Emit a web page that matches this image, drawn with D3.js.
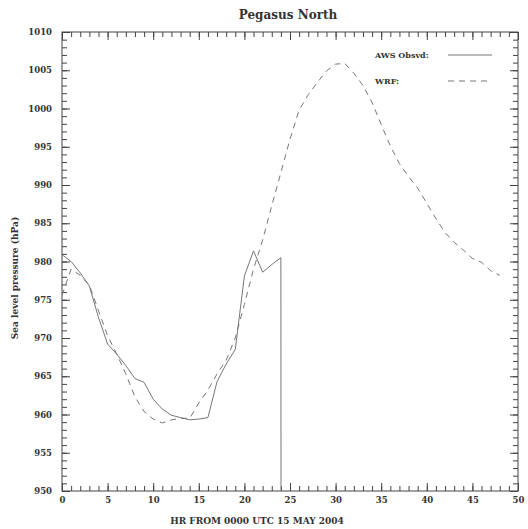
<!DOCTYPE html>
<html>
<head>
<meta charset="utf-8">
<script src="https://cdn.jsdelivr.net/npm/d3@7"></script>
<style>
    body { margin: 0; background: #fff; }
    text { font-family: "DejaVu Serif", "Liberation Serif", serif; font-weight: bold; fill: #333; }
</style>
</head>
<body>
<div id="chart-area"></div>
<script>
// hours from 0000 UTC 15 May 2004
const obsHours = d3.range(0, 26);
// AWS observed sea level pressure (hPa); -999 = missing (station stops after hr 24)
const obsValues = [980.9, 980.0, 978.5, 976.8, 972.7, 969.2, 967.9, 966.4, 964.7, 964.2,
    962.0, 960.7, 959.9, 959.6, 959.3, 959.4, 959.6, 964.3, 966.6, 968.5,
    978.1, 981.4, 978.6, 979.6, 980.5, -999];

const wrfHours = d3.range(0, 49);
const wrfValues = [975.6, 979.0, 978.2, 976.9, 973.6, 970.3, 967.9, 965.3, 962.3, 960.4,
    959.4, 958.9, 959.3, 959.5, 959.5, 961.5, 963.2, 965.3, 967.1, 970.0,
    974.4, 979.0, 982.8, 987.3, 991.6, 996.0, 999.8, 1001.8, 1003.4, 1004.9,
    1005.8, 1005.9, 1004.6, 1003.0, 1000.8, 997.9, 995.1, 992.8, 991.1, 989.6,
    987.6, 985.6, 983.8, 982.5, 981.5, 980.4, 979.9, 978.8, 978.2];

const xTickLabels = d3.range(0, 51, 5);
const yTickLabels = d3.range(950, 1011, 5);

const seriesNames = ["AWS Obsvd:", "WRF:"];

class PressureVis {

    constructor(_parentElement) {
        this.parentElement = _parentElement;
        this.initVis();
    }

    initVis() {
        let vis = this;
        let margin = {top: 32, right: 10, bottom: 38, left: 62};

        vis.width = 528 - margin.left - margin.right;
        vis.height = 529 - margin.top - margin.bottom;

        vis.root = d3.select("#" + vis.parentElement).append("svg")
            .attr("width", 528)
            .attr("height", 529);

        vis.svg = vis.root.append("g")
            .attr("transform", "translate(" + margin.left + "," + margin.top + ")");

        vis.x = d3.scaleLinear().domain([0, 50]).range([0, vis.width]);
        vis.y = d3.scaleLinear().domain([950, 1010]).range([vis.height, 0]);

        vis.svg.append("defs")
            .append("clipPath")
            .attr("id", "clip")
            .append("rect")
            .attr("width", vis.width)
            .attr("height", vis.height);

        // ticks on all four sides, pointing in
        const minorX = d3.range(0, 51, 1), minorY = d3.range(950, 1011, 1);
        const addAxis = (axis, cls, tr) => {
            let g = vis.svg.append("g").attr("class", cls);
            if (tr) g.attr("transform", tr);
            g.call(axis);
            g.select(".domain").remove();
            g.selectAll("line").attr("stroke", "#444");
            return g;
        };

        addAxis(d3.axisBottom(vis.x).tickValues(minorX).tickSize(-5).tickFormat(""), "x-minor", "translate(0," + vis.height + ")");
        addAxis(d3.axisTop(vis.x).tickValues(minorX).tickSize(-5).tickFormat(""), "x-minor-top");
        addAxis(d3.axisLeft(vis.y).tickValues(minorY).tickSize(-5).tickFormat(""), "y-minor");
        addAxis(d3.axisRight(vis.y).tickValues(minorY).tickSize(-5).tickFormat(""), "y-minor-right", "translate(" + vis.width + ",0)");

        let xAxis = addAxis(d3.axisBottom(vis.x).tickValues(xTickLabels).tickSize(-8).tickPadding(6).tickFormat(d3.format("d")), "x-axis", "translate(0," + vis.height + ")");
        addAxis(d3.axisTop(vis.x).tickValues(xTickLabels).tickSize(-8).tickFormat(""), "x-axis-top");
        let yAxis = addAxis(d3.axisLeft(vis.y).tickValues(yTickLabels).tickSize(-8).tickPadding(10).tickFormat(d3.format("d")), "y-axis");
        addAxis(d3.axisRight(vis.y).tickValues(yTickLabels).tickSize(-8).tickFormat(""), "y-axis-right", "translate(" + vis.width + ",0)");

        xAxis.selectAll("text").attr("font-size", 8.5).attr("font-family", null).attr("fill", "#333");
        yAxis.selectAll("text").attr("font-size", 8.5).attr("font-family", null).attr("fill", "#333");

        vis.svg.append("rect")
            .attr("width", vis.width)
            .attr("height", vis.height)
            .attr("fill", "none")
            .attr("stroke", "#444")
            .attr("stroke-width", 1);

        // title + axis titles
        vis.root.append("text")
            .attr("x", 288)
            .attr("y", 19)
            .attr("text-anchor", "middle")
            .attr("font-size", 12)
            .text("Pegasus North");

        vis.root.append("text")
            .attr("x", 257)
            .attr("y", 524)
            .attr("text-anchor", "middle")
            .attr("font-size", 9)
            .text("HR FROM 0000 UTC 15 MAY 2004");

        vis.root.append("text")
            .attr("transform", "translate(18,278) rotate(-90)")
            .attr("text-anchor", "middle")
            .attr("font-size", 9)
            .text("Sea level pressure (hPa)");

        vis.wrangleData();
    }

    wrangleData() {
        let vis = this;
        vis.obs = obsHours.map((h, i) => ({hour: h, value: obsValues[i]}));
        vis.wrf = wrfHours.map((h, i) => ({hour: h, value: wrfValues[i]}));
        vis.updateVis();
    }

    updateVis() {
        let vis = this;

        let line = d3.line()
            .x(d => vis.x(d.hour))
            .y(d => vis.y(d.value));

        let plot = vis.svg.append("g").attr("clip-path", "url(#clip)");

        plot.append("path")
            .datum(vis.wrf)
            .attr("class", "line wrf")
            .attr("d", line)
            .attr("fill", "none")
            .attr("stroke", "#777")
            .attr("stroke-width", 1)
            .attr("stroke-dasharray", "6,5");

        plot.append("path")
            .datum(vis.obs)
            .attr("class", "line obs")
            .attr("d", line)
            .attr("fill", "none")
            .attr("stroke", "#777")
            .attr("stroke-width", 1);

        // legend
        let legend = vis.root.selectAll(".legend")
            .data(seriesNames)
            .enter().append("g")
            .attr("class", "legend")
            .attr("transform", (d, i) => "translate(375," + (55 + i * 26) + ")");

        legend.append("text")
            .attr("y", 3)
            .attr("font-size", 8)
            .text(d => d);

        legend.append("line")
            .attr("x1", 73)
            .attr("x2", 117)
            .attr("stroke", "#777")
            .attr("stroke-width", 1)
            .attr("stroke-dasharray", (d, i) => i === 1 ? "6,5" : null);
    }
}

new PressureVis("chart-area");
</script>
</body>
</html>
